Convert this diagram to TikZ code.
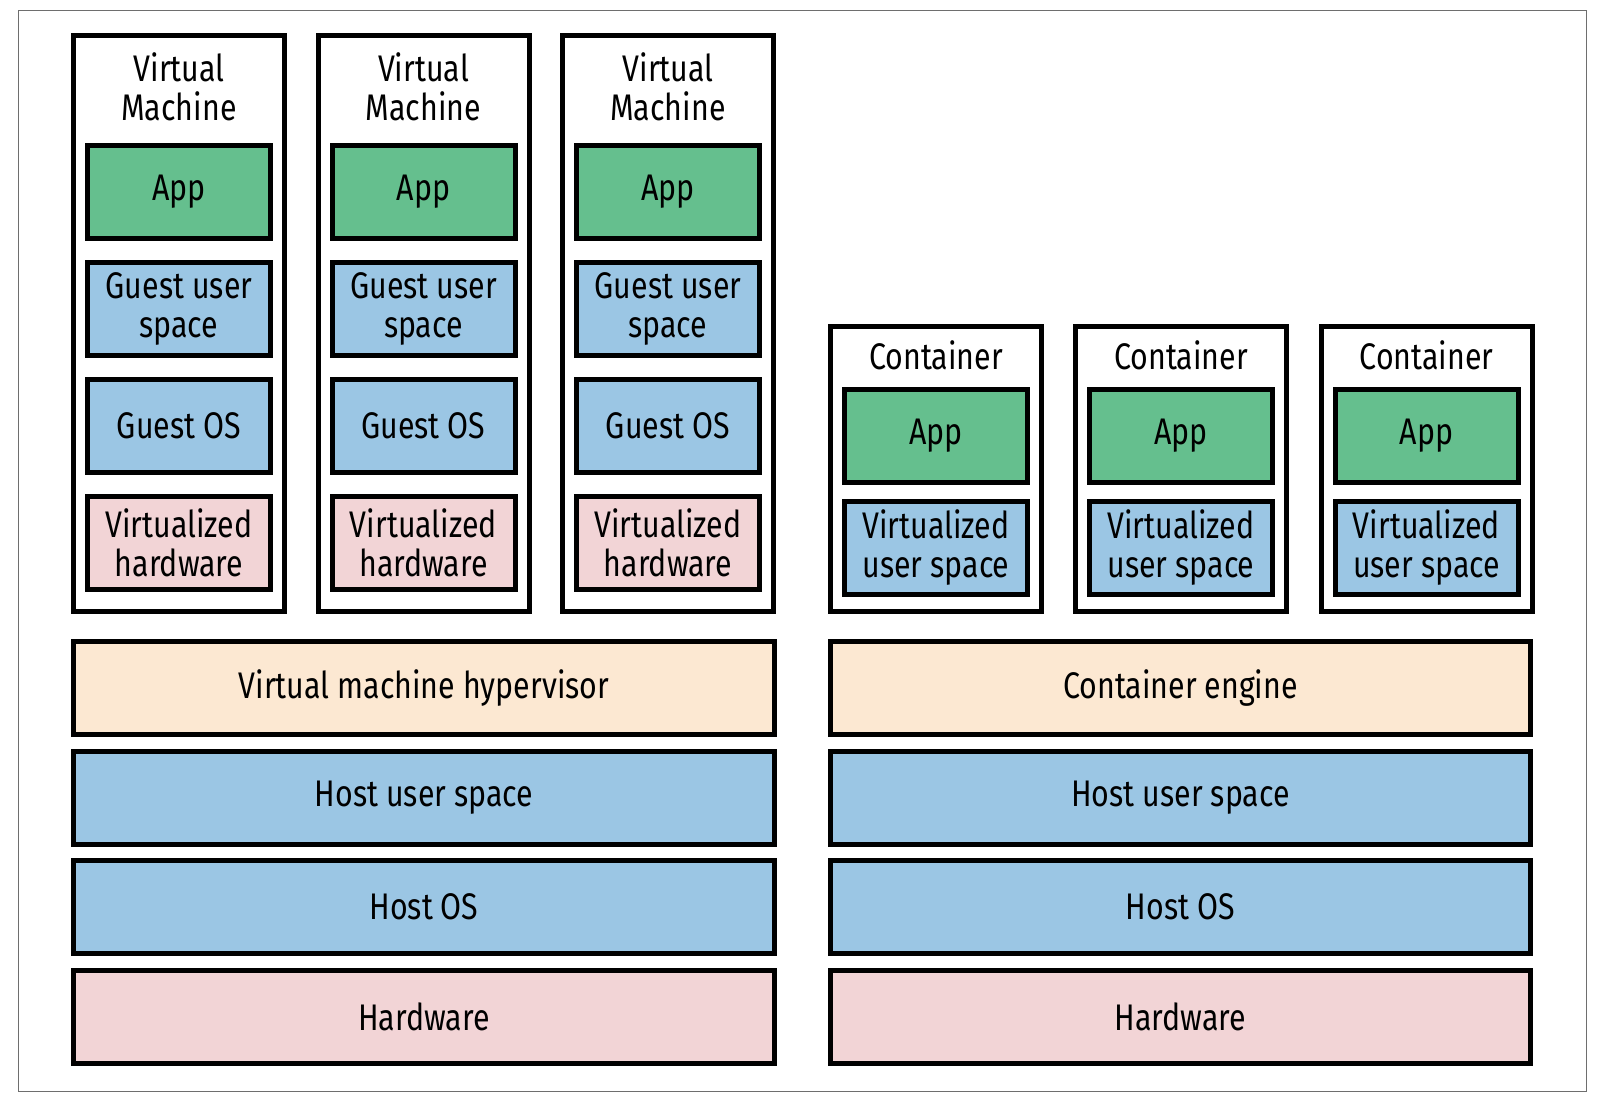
\documentclass[tikz,border=0pt]{standalone}
\usepackage{fontspec}
\setmainfont[FakeStretch=0.82]{Fira Sans}
\definecolor{appgreen}{RGB}{101,191,142}
\definecolor{spblue}{RGB}{155,198,228}
\definecolor{hwpink}{RGB}{242,212,214}
\definecolor{hvpeach}{RGB}{252,232,210}
\definecolor{framegray}{RGB}{110,110,110}
\tikzset{
  outerbox/.style={draw=black, line width=2.5pt, fill=white, inner sep=0pt,
    minimum width=105.5pt},
  layerbox/.style={draw=black, line width=2.5pt, inner sep=0pt, align=center,
    font=\fontsize{18.5pt}{19.5pt}\selectfont, minimum height=46.5pt},
  innerbox/.style={layerbox, minimum width=91.5pt},
  title/.style={inner sep=0pt, align=center, font=\fontsize{18.5pt}{19.5pt}\selectfont},
  appbox/.style={innerbox, fill=appgreen},
  bluebox/.style={innerbox, fill=spblue},
  pinkbox/.style={innerbox, fill=hwpink},
}
\begin{document}
\begin{tikzpicture}[x=0.5pt,y=-0.5pt]
\useasboundingbox (0,0) rectangle (1597,1103);
\draw[framegray, line width=0.75pt] (18.5,10.5) rectangle (1586.5,1091.5);

% Virtual machines
\foreach \i/\cx in {1/179, 2/423.5, 3/668}{
  \node[outerbox, minimum height=288pt] (vm\i) at (\cx,323.5) {};
  \node[title] (vmt\i) at (\cx,87) {Virtual\\Machine};
  \node[appbox] (vmapp\i) at (\cx,191.5) {App};
  \node[bluebox] (gus\i) at (\cx,308.5) {Guest user\\space};
  \node[bluebox] (gos\i) at (\cx,425.5) {Guest OS};
  \node[pinkbox] (vhw\i) at (\cx,542.5) {Virtualized\\hardware};
}

% Containers
\foreach \i/\cx in {1/936, 2/1181, 3/1426.5}{
  \node[outerbox, minimum height=142.5pt] (ct\i) at (\cx,469) {};
  \node[title] (ctt\i) at (\cx,355) {Container};
  \node[appbox] (ctapp\i) at (\cx,436) {App};
  \node[bluebox] (vus\i) at (\cx,548) {Virtualized\\user space};
}

% Bottom layers, left
\node[layerbox, fill=hvpeach, minimum width=350.5pt] (hyp) at (424,688) {Virtual machine hypervisor};
\node[layerbox, fill=spblue, minimum width=350.5pt] (lhus) at (424,797.5) {Host user space};
\node[layerbox, fill=spblue, minimum width=350.5pt] (lhos) at (424,907) {Host OS};
\node[layerbox, fill=hwpink, minimum width=350.5pt] (lhw) at (424,1016.5) {Hardware};

% Bottom layers, right
\node[layerbox, fill=hvpeach, minimum width=350pt] (eng) at (1180.5,688) {Container engine};
\node[layerbox, fill=spblue, minimum width=350pt] (rhus) at (1180.5,797.5) {Host user space};
\node[layerbox, fill=spblue, minimum width=350pt] (rhos) at (1180.5,907) {Host OS};
\node[layerbox, fill=hwpink, minimum width=350pt] (rhw) at (1180.5,1016.5) {Hardware};
\end{tikzpicture}
\end{document}
